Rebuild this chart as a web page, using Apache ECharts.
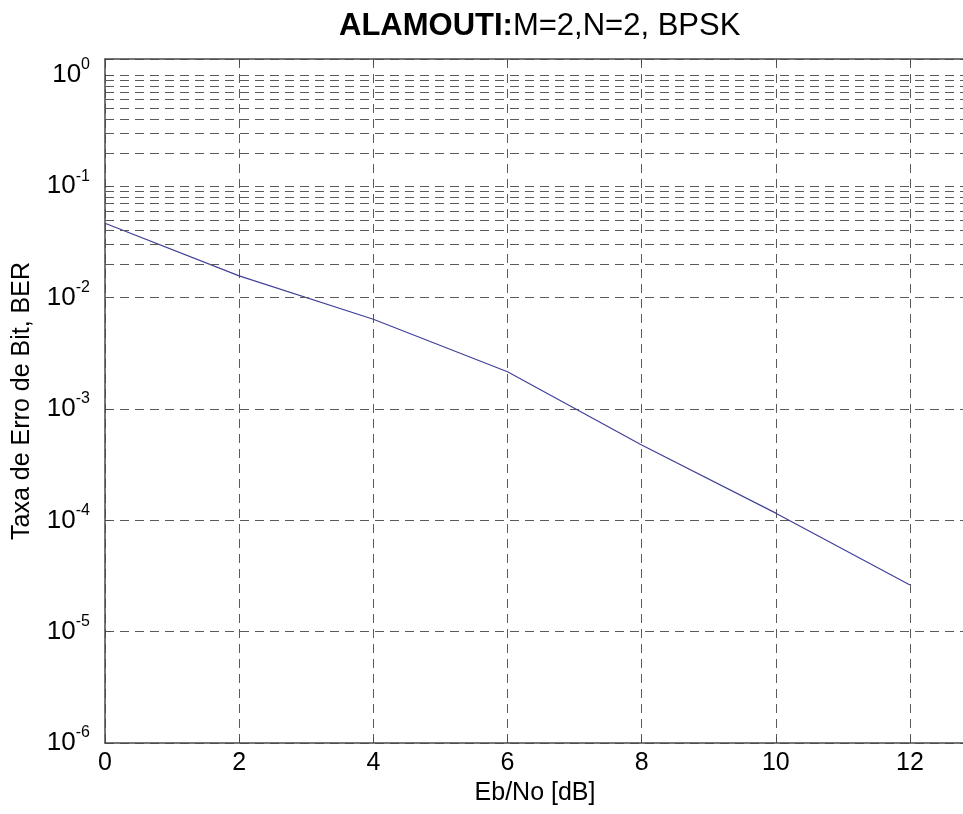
<!DOCTYPE html>
<html>
<head>
<meta charset="utf-8">
<script src="https://cdn.jsdelivr.net/npm/echarts@6/dist/echarts.min.js"></script>
<style>
  html, body { margin: 0; padding: 0; background: #ffffff; }
  #chart { width: 963px; height: 814px; }
</style>
</head>
<body>
<div id="chart"></div>
<script>
// Eb/No points (dB) and simulated bit error rate for Alamouti 2x2, BPSK
const ebno = [0, 2, 4, 6, 8, 10, 12];
const ber = [0.0466, 0.0157, 0.0064, 0.00216, 0.000475, 0.000116, 0.0000262];

// Log-scale minor grid values: 2..9 x 10^d for each decade
const decades = [-6, -5, -4, -3, -2, -1];
const minorSteps = [2, 3, 4, 5, 6, 7, 8, 9];

const yMin = 1e-6;
const yMax = 1.392;
const xMax = 12.82;

const minorLines = [];
decades.forEach(d => minorSteps.forEach(k => minorLines.push({ yAxis: k * Math.pow(10, d) })));

const font = 'Liberation Sans, Arial, Helvetica, sans-serif';
const gridColor = '#5a5a5a';
const frameColor = '#4a4a4a';

function isPow10(v) {
  const e = Math.log10(v);
  return Math.abs(e - Math.round(e)) < 1e-6;
}

const chart = echarts.init(document.getElementById('chart'), null, { renderer: 'canvas' });

chart.setOption({
  backgroundColor: '#ffffff',
  animation: false,
  title: {
    left: 334,
    top: 6,
    text: '{b|ALAMOUTI:}{n|M=2,N=2, BPSK}',
    textStyle: {
      fontWeight: 'normal',
      rich: {
        b: { fontFamily: font, fontSize: 31, fontWeight: 'bold', color: '#000' },
        n: { fontFamily: font, fontSize: 31, fontWeight: 'normal', color: '#000' }
      }
    }
  },
  grid: { left: 105, right: -2, top: 59, bottom: 71, containLabel: false, outerBoundsMode: 'none' },
  xAxis: [{
    type: 'value',
    min: 0,
    max: xMax,
    interval: 2,
    name: 'Eb/No [dB]',
    nameLocation: 'middle',
    nameGap: 38,
    nameTextStyle: { fontFamily: font, fontSize: 25, color: '#000' },
    axisLine: { show: true, lineStyle: { color: frameColor, width: 1.5 } },
    axisTick: { show: true, inside: true, length: 6, lineStyle: { color: frameColor } },
    axisLabel: {
      fontFamily: font, fontSize: 25, color: '#000', margin: 8,
      formatter: v => (Math.abs(v % 2) < 1e-9 ? String(v) : '')
    },
    splitLine: { show: true, lineStyle: { color: gridColor, width: 1, type: [9, 6] } }
  }, {
    type: 'value',
    position: 'top',
    min: 0,
    max: xMax,
    interval: 2,
    axisLine: { show: true, lineStyle: { color: frameColor, width: 1.5 } },
    axisTick: { show: true, inside: true, length: 6, lineStyle: { color: frameColor } },
    axisLabel: { show: false },
    splitLine: { show: false }
  }],
  yAxis: {
    type: 'log',
    logBase: 10,
    min: yMin,
    max: yMax,
    interval: 1,
    name: 'Taxa de Erro de Bit, BER',
    nameLocation: 'middle',
    nameGap: 70,
    nameTextStyle: { fontFamily: font, fontSize: 25, color: '#000' },
    axisLine: { show: true, lineStyle: { color: frameColor, width: 1.5 } },
    axisTick: { show: true, inside: true, length: 6, lineStyle: { color: frameColor } },
    axisLabel: {
      margin: 15,
      formatter: v => {
        if (!isPow10(v)) return '';
        return '{b|10}{e|' + Math.round(Math.log10(v)) + '}';
      },
      rich: {
        b: { fontFamily: font, fontSize: 26, color: '#000' },
        e: { fontFamily: font, fontSize: 16, color: '#000', padding: [0, 0, 20, 0] }
      }
    },
    splitLine: { show: true, lineStyle: { color: gridColor, width: 1, type: [9, 6] } }
  },
  series: [{
    type: 'line',
    data: ebno.map((x, i) => [x, ber[i]]),
    showSymbol: false,
    symbol: 'none',
    lineStyle: { color: '#40409a', width: 1.2 },
    markLine: {
      silent: true,
      symbol: ['none', 'none'],
      label: { show: false },
      lineStyle: { color: gridColor, width: 1, type: [9, 6] },
      data: minorLines
    },
    z: 3
  }]
});
</script>
</body>
</html>
